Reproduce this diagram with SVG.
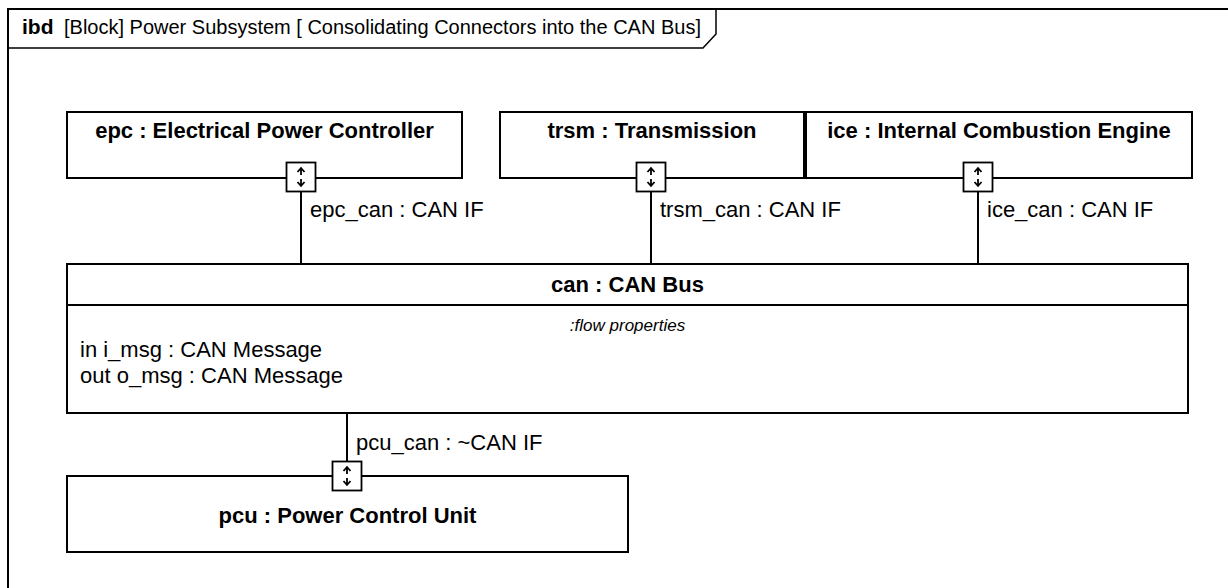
<svg xmlns="http://www.w3.org/2000/svg" width="1228" height="588" viewBox="0 0 1228 588">
<style>
text{font-family:"Liberation Sans",Arial,sans-serif;fill:#000}
.box{fill:#fff;stroke:#000;stroke-width:2}
.name{font-size:22px;font-weight:bold;text-anchor:middle}
.lbl{font-size:22px}
.conn{stroke:#000;stroke-width:2;fill:none}
.port{fill:#fff;stroke:#000;stroke-width:1.8}
.arr{stroke:#000;stroke-width:1.8;fill:none}
</style>
<defs>
<g id="pico">
<rect class="port" x="-14.5" y="-14.5" width="29" height="29"/>
<path class="arr" d="M0,-2 V-9 M-3.5,-5 L0,-9 L3.5,-5 M0,2 V9 M-3.5,5 L0,9 L3.5,5"/>
</g>
</defs>
<rect width="1228" height="588" fill="#fff"/>
<g id="frame">
<path d="M8,600 V9 H1240" fill="none" stroke="#000" stroke-width="2"/>
<path d="M8,48 H703 L716,34 V9" fill="none" stroke="#000" stroke-width="1.5"/>
<text x="22" y="34" font-size="20px"><tspan font-weight="bold" font-size="21px">ibd</tspan><tspan x="64">[Block] Power Subsystem [ Consolidating Connectors into the CAN Bus]</tspan></text>
</g>
<g id="connectors">
<line class="conn" x1="301" y1="192" x2="301" y2="264"/>
<line class="conn" x1="651" y1="192" x2="651" y2="264"/>
<line class="conn" x1="978" y1="192" x2="978" y2="264"/>
<line class="conn" x1="347" y1="413" x2="347" y2="462"/>
<text class="lbl" x="310" y="217">epc_can : CAN IF</text>
<text class="lbl" x="660" y="217">trsm_can : CAN IF</text>
<text class="lbl" x="987" y="217">ice_can : CAN IF</text>
<text class="lbl" x="356" y="450">pcu_can : ~CAN IF</text>
</g>
<g id="epc">
<rect class="box" x="67" y="112" width="395" height="66"/>
<text class="name" x="264.5" y="138">epc : Electrical Power Controller</text>
<use href="#pico" x="301" y="177"/>
</g>
<g id="trsm">
<rect class="box" x="500" y="112" width="304" height="66"/>
<text class="name" x="652" y="138">trsm : Transmission</text>
<use href="#pico" x="651" y="177"/>
</g>
<g id="ice">
<rect class="box" x="806" y="112" width="386" height="66"/>
<text class="name" x="999" y="138">ice : Internal Combustion Engine</text>
<use href="#pico" x="978" y="177"/>
</g>
<g id="can">
<rect class="box" x="67" y="264" width="1121" height="149"/>
<line class="conn" x1="67" y1="305" x2="1188" y2="305"/>
<text class="name" x="627.5" y="292">can : CAN Bus</text>
<text x="627.5" y="331" font-size="17px" font-style="italic" text-anchor="middle">:flow properties</text>
<text class="lbl" x="80" y="357">in i_msg : CAN Message</text>
<text class="lbl" x="80" y="383">out o_msg : CAN Message</text>
</g>
<g id="pcu">
<rect class="box" x="67" y="476" width="561" height="76"/>
<text class="name" x="347.5" y="523">pcu : Power Control Unit</text>
<use href="#pico" x="347" y="476"/>
</g>
</svg>
